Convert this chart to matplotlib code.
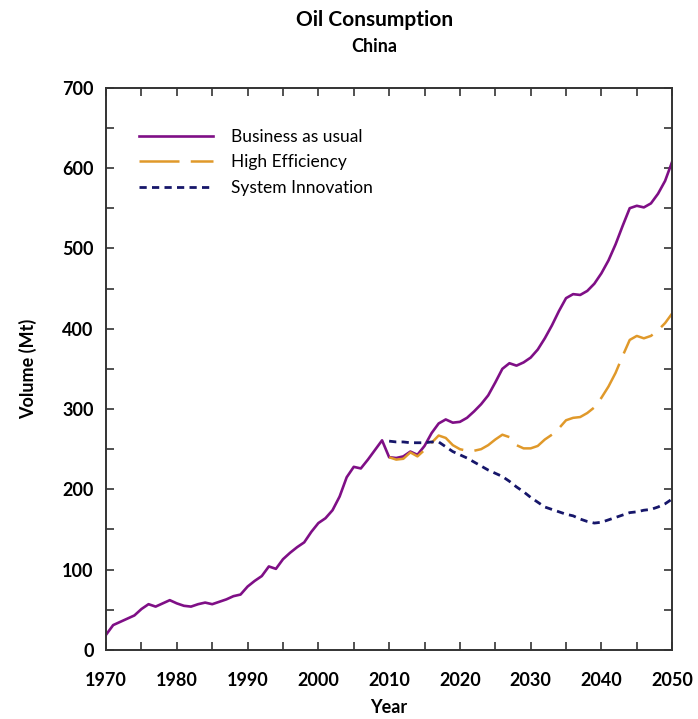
import matplotlib
matplotlib.use('Agg')
import matplotlib.pyplot as plt
from matplotlib.ticker import MultipleLocator

plt.rcParams['font.family'] = ['Lato', 'DejaVu Sans']

years_bau = list(range(1970, 2051))
business_as_usual = [
    19, 31, 35, 39, 43, 51, 57, 54, 58, 62,
    58, 55, 54, 57, 59, 57, 60, 63, 67, 69,
    79, 86, 92, 104, 101, 113, 121, 128, 134, 147,
    158, 164, 174, 191, 215, 228, 226, 237, 249, 261,
    240, 239, 241, 247, 243, 254, 270, 282, 287, 283,
    284, 289, 297, 306, 317, 333, 350, 357, 354, 358,
    364, 374, 388, 404, 422, 438, 443, 442, 447, 456,
    469, 485, 505, 528, 550, 553, 551, 556, 568, 584,
    608,
]

years_scen = list(range(2010, 2051))
high_efficiency = [
    240, 237, 238, 246, 241, 249, 258, 267, 264, 255,
    250, 248, 248, 250, 255, 262, 268, 265, 255, 251,
    251, 254, 262, 268, 276, 286, 289, 290, 295, 302,
    314, 328, 345, 366, 386, 391, 388, 391, 398, 407,
    419,
]
system_innovation = [
    260, 259, 259, 258, 258, 258, 259, 259, 253, 247,
    243, 239, 234, 229, 224, 220, 216, 210, 203, 197,
    190, 184, 178, 175, 172, 169, 167, 163, 160, 158,
    159, 162, 165, 168, 171, 172, 174, 175, 178, 182,
    188,
]

fig = plt.figure(figsize=(6.98, 7.19), dpi=100)
ax = fig.add_axes([0.152, 0.096, 0.811, 0.782])

ax.plot(years_bau, business_as_usual, color='#7f0f86', lw=1.9,
        label='Business as usual')
ax.plot(years_scen, high_efficiency, color='#e0992a', lw=1.8,
        linestyle=(0, (16, 4.5)), label='High Efficiency')
ax.plot(years_scen, system_innovation, color='#16166a', lw=2.0,
        linestyle=(0, (2.6, 1.9)), label='System Innovation')

ax.set_xlim(1970, 2050)
ax.set_ylim(0, 700)
ax.xaxis.set_major_locator(MultipleLocator(10))
ax.xaxis.set_minor_locator(MultipleLocator(5))
ax.yaxis.set_major_locator(MultipleLocator(100))
ax.yaxis.set_minor_locator(MultipleLocator(50))
ax.tick_params(which='both', direction='in', top=True, right=True,
               length=6, width=1.2, color='#333333')
ax.tick_params(axis='x', labelsize=13, pad=16)
ax.tick_params(axis='y', labelsize=13, pad=9)
for lab in ax.get_xticklabels() + ax.get_yticklabels():
    lab.set_fontweight('bold')
for sp in ax.spines.values():
    sp.set_linewidth(1.4)
    sp.set_color('#333333')

ax.set_xlabel('Year', fontsize=13, fontweight='bold', labelpad=7)
ax.set_ylabel('Volume (Mt)', fontsize=13, fontweight='bold', labelpad=18)

fig.text(0.536, 0.972, 'Oil Consumption', ha='center', va='center',
         fontsize=15, fontweight='bold')
fig.text(0.536, 0.936, 'China', ha='center', va='center',
         fontsize=13, fontweight='bold')

ax.legend(loc='upper left', bbox_to_anchor=(0.03, 0.955), frameon=False,
          fontsize=12.5, handlelength=4.3, handletextpad=1.0,
          labelspacing=0.55)

fig.savefig('out.png', dpi=100)
